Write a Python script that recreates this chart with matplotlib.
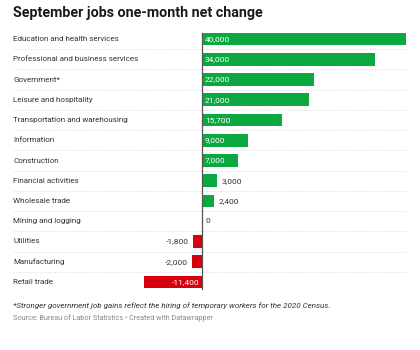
import matplotlib
matplotlib.use("Agg")
import matplotlib.pyplot as plt

categories = [
    "Education and health services",
    "Professional and business services",
    "Government*",
    "Leisure and hospitality",
    "Transportation and warehousing",
    "Information",
    "Construction",
    "Financial activities",
    "Wholesale trade",
    "Mining and logging",
    "Utilities",
    "Manufacturing",
    "Retail trade",
]
values = [40000, 34000, 22000, 21000, 15700, 9000, 7000, 3000, 2400, 0, -1800, -2000, -11400]

W, H = 420, 350
GREEN = "#0aa83f"
RED = "#d7000f"

plt.rcParams["font.family"] = ["Roboto", "DejaVu Sans"]

fig = plt.figure(figsize=(W / 100, H / 100), dpi=100)

# axes placed in pixel terms: left 13, right 407, rows centred 39 .. 282
left, right = 13, 407
top, bottom = 28.9, 292.1
ax = fig.add_axes([left / W, 1 - bottom / H, (right - left) / W, (bottom - top) / H])

zero_px = 202
scale = 204 / 40000  # px per job
ax.set_xlim((left - zero_px) / scale, (right - zero_px) / scale)
ax.set_ylim(len(categories) - 0.5, -0.5)
ax.axis("off")

n = len(categories)
for i in range(n - 1):
    ax.axhline(i + 0.5, color="#e2e2e2", lw=0.6, ls=(0, (2, 1.5)), zorder=0)

colors = [GREEN if v >= 0 else RED for v in values]
ax.barh(range(n), values, height=0.62, color=colors, zorder=2)
ax.axvline(0, ymin=0.01, ymax=0.985, color="#555555", lw=0.9, zorder=3)

pad = 3 / scale
for i, (name, v) in enumerate(zip(categories, values)):
    ax.text(0, i, name, transform=ax.get_yaxis_transform(), ha="left", va="center",
            fontsize=5.8, color="#333333")
    label = f"{v:,}"
    if v >= 5000:
        ax.text(pad, i, label, ha="left", va="center", fontsize=6.0, color="white", zorder=4)
    elif v >= 0:
        ax.text(v + pad * 1.3, i, label, ha="left", va="center", fontsize=6.0, color="#333333")
    elif v > -5000:
        ax.text(v - pad * 1.3, i, label, ha="right", va="center", fontsize=6.0, color="#333333")
    else:
        ax.text(-pad, i, label, ha="right", va="center", fontsize=6.0, color="white", zorder=4)

fig.text(13 / W, 1 - 13 / H, "September jobs one-month net change", ha="left", va="center",
         fontsize=10.3, fontweight="bold", color="#1a1a1a")
fig.text(13 / W, 1 - 306 / H,
         "*Stronger government job gains reflect the hiring of temporary workers for the 2020 Census.",
         ha="left", va="center", fontsize=5.75, style="italic", color="#333333")
fig.text(13 / W, 1 - 318.5 / H, "Source: Bureau of Labor Statistics \u2022 Created with Datawrapper",
         ha="left", va="center", fontsize=5.2, color="#888888")

fig.savefig("out.png", dpi=100, facecolor="white")
